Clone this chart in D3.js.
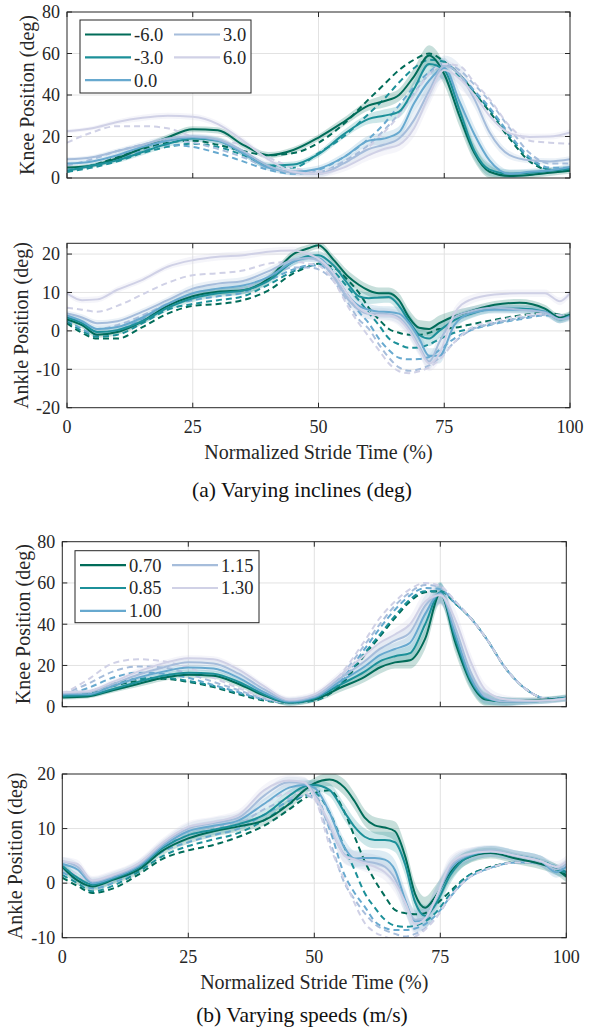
<!DOCTYPE html>
<html>
<head>
<meta charset="utf-8">
<script src="https://cdn.jsdelivr.net/npm/d3@7"></script>
<style>
  body { margin: 0; background: #fff; }
  svg { display: block; font-family: "Liberation Serif", "Times New Roman", serif; }
</style>
</head>
<body>
<svg id="chart" width="597" height="1034"></svg>
<script>
// stride % sample points (knee plots / ankle plots)
const kneeStride = [0,5,10,15,20,25,30,35,40,45,50,55,60,63,66,69,72,75,78,81,84,88,92,96,100];
const ankleStride = [0,3,6,10,15,20,25,30,35,40,45,48,50,53,56,58,60,62,64,66,68,70,72,74,77,80,85,90,95,98,100];

const inclineLabels = ["-6.0", "-3.0", "0.0", "3.0", "6.0"];
const speedLabels = ["0.70", "0.85", "1.00", "1.15", "1.30"];
const seriesColors = ["#016c59", "#1c9099", "#67a9cf", "#a6bddb", "#d0d1e6"];

const strideTicks = [0, 25, 50, 75, 100];
const kneeTicks = [0, 20, 40, 60, 80];
const ankleIncTicks = [-20, -10, 0, 10, 20];
const ankleSpdTicks = [-10, 0, 10, 20];

// (a) incline - knee, measured mean (solid) and model (dashed)
const kneeIncMeasured = [
  [5,6,9.5,14.5,19.5,23.5,23,16,11,13.5,19.5,27,35,37,40,49,59,50,30,12,3,1,1.5,2.5,3.5],
  [3.5,6,8.5,12.5,16.5,19,18,12,6,6.5,11.5,21,28.5,30,32,43,55,52,33,13,4,2,2.5,3.5,4.5],
  [7,8,11,15,18,19.5,18,12,5,3,4.5,10,18,19,22,36,47,53,37,21,8.5,2,3,3.7,5.3],
  [9,10,13,16,19,20,18.5,13,6,2.5,2,7,14,16,19,28,42,54,50,38,22,11,8.5,8,9],
  [22.5,24,27,29,30,29.5,26,18,9,3,2,5,11,14,16,24,40,52,48,40,30,21.5,19.8,20,22]
];
const kneeIncPredicted = [
  [3,6,10,14,17,18,16,13,11,12,17,26,38,45,52,57,60,56,50,41,32,19,8,4,4],
  [3,5,8,12,15,16.5,15,11,6,5,12,20,31,38,46,53,57,56,49,41,33,20,9,4,3.5],
  [4,6,9,13,16,15,12,8,4,2,4,10,19,26,35,44,51,55,50,42,34,21,10,5,5],
  [6,9,13,16,18,17,14,10,5,3,3,8,16,23,31,41,50,55,52,45,37,24,12,7,7],
  [17,22,25,25,24,20,18,16,10,5,3,7,15,22,30,40,50,55,54,46,38,25,18,17,16.5]
];

// (a) incline - ankle
const ankleIncMeasured = [
  [3,1.5,-1,-0.3,2.5,6.5,9,10.2,10.6,13.5,20,21.5,22.3,18.5,14,12,10.5,9.8,9.8,8,3.5,0.8,0.5,2,3.8,5,6.8,7.3,5.8,3.4,4.2],
  [3.5,2,-0.3,0.2,2.5,6,8.5,9.8,10.5,13,18,19.5,19.7,17,12,9,8.5,8.7,8.8,6.5,2.5,-1,-2,0,2.8,4.3,5.8,5.8,5,3,4],
  [4,2.5,0.5,1,3.5,7,9.8,11,11.8,14,18,19,18.9,15,9,6.5,5.5,5,4.9,4.5,2,-2,-6.5,-6.5,1.5,4.5,5.5,5.5,5,3,3.8],
  [4.5,3.5,2,2.5,5,8,11,12.3,13,15.5,18.5,19,18.3,14,8,5.5,4.5,4.5,4.3,3.5,0.5,-4,-8,-3,3.5,5,6,5.5,4.7,3,3.5],
  [9.8,8,8.2,10.7,13.3,16.7,18.4,19.3,19.7,20.6,20.9,20,18.8,15,9,6,4.5,4,4,3,0,-4.5,-8.5,-6,4.5,8,9.5,9.8,9.8,7.7,9.8]
];
const ankleIncPredicted = [
  [2,-0.5,-2,-2,1,4.5,6.5,7,8,10.5,15,16.7,17.5,16.5,13,10,6,3,0.5,-0.5,-1,-1,-0.5,0.5,0.8,1.6,2.9,4,4.7,4.2,3.8],
  [2.5,0,-1.5,-1,2,5.5,7,8,9,12,15.5,17,17.5,15.5,11,8,4.7,1.5,-2,-3.5,-4.4,-4.3,-3.5,-2.2,-0.5,0.5,2,3.3,4.2,4,3.8],
  [3,0.5,-1,0,3,6.5,8,9,10,13,16,17,17,14.5,9,5,2,-2,-5,-7,-7.4,-7.3,-6.8,-5,-2,0,1.8,3,4,4,3.5],
  [3.5,2,0.5,1.5,4,7,9,10,11,14,16.5,16.5,16,13,7,3,0.5,-3.5,-7,-9.5,-10.4,-10,-9,-7,-3,0,2,3.3,4.2,4,3.5],
  [6,5.5,5,6.5,9.5,12.5,14.5,15,15.7,17.5,18,17.5,17,13,6,2,-1.5,-5,-8.5,-10.5,-11,-10.5,-9.5,-7.5,-3,0.5,2.5,3.8,4.5,4,3.5]
];

// (b) speed - knee
const kneeSpdMeasured = [
  [4.5,5,8,11,14,15.5,15,11,5.5,2,3.5,9,14.5,19,21.5,22.5,33,55,31,12,3.5,2.5,3,3.5,4],
  [5,5.5,8.5,12,15,16.5,16,12,6,2,4,10.5,17,22,24.5,26,40,55.5,33,13,4,2.5,2.5,3,4.5],
  [6,6,10,14,17,19,18.5,14,7,2.5,4.5,12,19.5,25,28,31,45,55,35,14,4.5,2.5,2.5,3,4],
  [6.5,7,11,15.5,19,21.5,21,16,8.5,3,5,13.5,22,28,32,36,49,54.5,38,17,5,2.5,2.5,3,4],
  [7,7.5,12,17,21,23.5,23,18,10,3.5,6,15,25,31,35,40,51,54,42,22,8,3.5,3,3,4]
];
const kneeSpdPredicted = [
  [5,6.5,10,12.5,13.5,12,9.5,6,3,2,3,10,25,34,43,51,55.5,56,50,43,33.5,18.5,8.5,4,4],
  [5,7,11,13.5,14,12.5,10,6.5,3.5,2,3,11,26,35,44,52,56,56,50,43,33.5,18.5,8.5,4,4],
  [5.5,9,14,16.5,16,14,10.5,7,3.5,2,3.5,12,28,38,47,54,57.5,57,50,43,33.5,18.5,8.5,4,4],
  [6,11,17,19.5,19,16,12,8,4,2,3.5,14,30,40,49,55.5,59,58,51,43,33.5,18.5,8.5,4,4],
  [6,13,21,23,22,19,14,9,4.5,2,4,15,32,43,51,57,60,58.5,51,43,33.5,18.5,8.5,4,4]
];

// (b) speed - ankle
const ankleSpdMeasured = [
  [3,0.5,-0.6,0.6,2.4,6,8.2,9.5,10.4,11.5,14.5,17,18.3,19,17.5,15,12,10.6,10.2,9.5,5,-2,-4.5,-2.5,2,4.5,5.5,4.5,3.5,2.5,1.2],
  [3.2,1,-0.3,0.8,2.8,6.5,8.8,9.8,10.8,12.5,16,17.7,18,17.1,13,10.3,8.5,7.9,7.9,7.5,3.5,-3.5,-6,-4,1.5,4.5,5.8,5,4,2.5,2],
  [3.5,2.5,0,1,3,6.8,9.5,10.5,11.5,14.5,17.5,18,17.5,13,6.5,4.5,4.6,4.6,4.3,2.4,-3,-7,-6.5,-3,2.5,4.8,5.8,5,4,2,3],
  [4,3,0.3,1.3,3.3,7.2,10,11,12,16,18.5,18.3,16.5,10.5,5.2,4.4,4,3.7,3,0.8,-3.5,-6.7,-6.5,-3,3,5,6,5,4,2.5,3.5],
  [4,3.5,0.5,1.5,3.5,7.5,10.3,11.2,12.5,17,18.8,18.5,16,11,5,4.3,3.6,3,2,0,-3.5,-7.5,-6.5,-3,3.5,5.2,5.8,5,4,3,4]
];
const ankleSpdPredicted = [
  [1,-0.5,-1.8,-1,1.5,4.5,6,7,8.5,10.5,13.5,15.5,16.5,17,13,8.5,4,0.5,-2.4,-4.9,-5.5,-5.7,-5.5,-4,-1.5,1,3,3.8,3.7,2.5,1.5],
  [1.5,0,-1.5,-0.5,2,5,6.8,8,9.2,11.5,14.5,16,16.5,13,6.5,2.4,-1.8,-4.5,-6.7,-7.8,-8,-7.8,-7,-5.5,-2,1,2.8,3.8,3.8,3,2],
  [2,0.5,-1,0,2.5,5.8,7.5,8.8,10,12.5,15,16,16,10,1.5,-1.8,-4.3,-7,-8.2,-8.6,-8.6,-8.3,-7.5,-6,-2.5,0.5,2.8,3.8,3.8,3,2.5],
  [2.5,1,-0.5,0.5,3,6.5,8.2,9.5,10.8,13.5,15.5,16,15.5,8,0,-3,-5.5,-7.5,-8.6,-9.3,-9.8,-9.3,-8.3,-6.5,-2.5,0.5,2.8,3.8,3.8,3,3],
  [3,1.5,0,1,3.5,7,8.8,10,11.5,14.5,16.5,16.5,15.5,7,0.5,-3.7,-7.3,-9,-9.8,-10.4,-10.4,-9.8,-8.5,-6.5,-2.5,0.5,2.8,3.8,3.8,3,3]
];

// std band half widths
const kneeSpread = [1,1,1.2,1.5,1.5,1.5,1.5,1.5,1.5,1.5,1.5,2,2.5,3,3,4,5,5,5,4,3,2,1.5,1.5,1.5];
const ankleSpread = [0.8,0.8,0.8,0.8,0.8,0.8,1,1,1,1,1,1,1,1.2,1.5,1.5,1.5,1.5,1.5,1.8,2,2,2,2,1.5,1.2,1,1,1,1,1];

const svg = d3.select("#chart");
const axisColor = "#262626";

const panels = [
  { left: 67, right: 570, top: 12, bottom: 178, yDomain: [0, 80], yTicks: kneeTicks,
    stride: kneeStride, measured: kneeIncMeasured, predicted: kneeIncPredicted, spread: kneeSpread,
    ylabel: "Knee Position (deg)", labelX: 34, showX: false,
    legend: { names: inclineLabels, x: 80, y: 20, w: 171, h: 73, col2: 89 } },
  { left: 67, right: 570, top: 243.3, bottom: 407.7, yDomain: [-20, 22.8], yTicks: ankleIncTicks,
    stride: ankleStride, measured: ankleIncMeasured, predicted: ankleIncPredicted, spread: ankleSpread,
    ylabel: "Ankle Position (deg)", labelX: 28, showX: true, caption: "(a) Varying inclines (deg)", capY: 497 },
  { left: 62.3, right: 566.3, top: 541.7, bottom: 706.7, yDomain: [0, 80], yTicks: kneeTicks,
    stride: kneeStride, measured: kneeSpdMeasured, predicted: kneeSpdPredicted, spread: kneeSpread,
    ylabel: "Knee Position (deg)", labelX: 29.5, showX: false,
    legend: { names: speedLabels, x: 75, y: 550.7, w: 184, h: 72, col2: 92 } },
  { left: 62.3, right: 566.3, top: 774, bottom: 937.7, yDomain: [-10, 20], yTicks: ankleSpdTicks,
    stride: ankleStride, measured: ankleSpdMeasured, predicted: ankleSpdPredicted, spread: ankleSpread,
    ylabel: "Ankle Position (deg)", labelX: 22, showX: true, caption: "(b) Varying speeds (m/s)", capY: 1022 }
];

panels.forEach(function(p, pi) {
  var x = d3.scaleLinear().domain([0, 100]).range([p.left, p.right]);
  var y = d3.scaleLinear().domain(p.yDomain).range([p.bottom, p.top]);
  var g = svg.append("g");

  // clip
  var clipId = "clip" + pi;
  svg.append("clipPath").attr("id", clipId)
    .append("rect").attr("x", p.left).attr("y", p.top)
    .attr("width", p.right - p.left).attr("height", p.bottom - p.top);

  // grid
  g.selectAll(".gx").data(strideTicks.slice(1, -1)).enter().append("line")
    .attr("x1", d => x(d)).attr("x2", d => x(d))
    .attr("y1", p.top).attr("y2", p.bottom)
    .attr("stroke", "#e2e2e2").attr("stroke-width", 1);
  g.selectAll(".gy").data(p.yTicks.filter(t => t > p.yDomain[0] && t < p.yDomain[1])).enter().append("line")
    .attr("x1", p.left).attr("x2", p.right)
    .attr("y1", d => y(d)).attr("y2", d => y(d))
    .attr("stroke", "#e2e2e2").attr("stroke-width", 1);

  var plot = g.append("g").attr("clip-path", "url(#" + clipId + ")");

  var band = d3.area()
    .x((d, i) => x(p.stride[i]))
    .y0((d, i) => y(d - p.spread[i]))
    .y1((d, i) => y(d + p.spread[i]))
    .curve(d3.curveMonotoneX);
  var line = d3.line()
    .x((d, i) => x(p.stride[i]))
    .y(d => y(d))
    .curve(d3.curveMonotoneX);

  // shaded std bands
  p.measured.forEach(function(vals, si) {
    plot.append("path").attr("d", band(vals))
      .attr("fill", seriesColors[si]).attr("fill-opacity", 0.22).attr("stroke", "none");
  });
  // model (dashed)
  p.predicted.forEach(function(vals, si) {
    plot.append("path").attr("d", line(vals))
      .attr("fill", "none").attr("stroke", seriesColors[si])
      .attr("stroke-width", 2).attr("stroke-dasharray", "6,4");
  });
  // measured mean (solid)
  p.measured.forEach(function(vals, si) {
    plot.append("path").attr("d", line(vals))
      .attr("fill", "none").attr("stroke", seriesColors[si]).attr("stroke-width", 2);
  });

  // frame and ticks
  g.append("rect").attr("x", p.left).attr("y", p.top)
    .attr("width", p.right - p.left).attr("height", p.bottom - p.top)
    .attr("fill", "none").attr("stroke", axisColor).attr("stroke-width", 1);

  var tl = 5;
  strideTicks.forEach(function(t) {
    g.append("line").attr("x1", x(t)).attr("x2", x(t)).attr("y1", p.bottom).attr("y2", p.bottom - tl)
      .attr("stroke", axisColor);
    g.append("line").attr("x1", x(t)).attr("x2", x(t)).attr("y1", p.top).attr("y2", p.top + tl)
      .attr("stroke", axisColor);
  });
  p.yTicks.forEach(function(t) {
    g.append("line").attr("x1", p.left).attr("x2", p.left + tl).attr("y1", y(t)).attr("y2", y(t))
      .attr("stroke", axisColor);
    g.append("line").attr("x1", p.right).attr("x2", p.right - tl).attr("y1", y(t)).attr("y2", y(t))
      .attr("stroke", axisColor);
  });

  // tick labels
  g.selectAll(".yl").data(p.yTicks).enter().append("text")
    .attr("x", p.left - 7).attr("y", d => y(d)).attr("dy", "0.35em")
    .attr("text-anchor", "end").attr("font-size", 18).attr("fill", axisColor)
    .text(d => d);
  if (p.showX) {
    g.selectAll(".xl").data(strideTicks).enter().append("text")
      .attr("x", d => x(d)).attr("y", p.bottom + 25)
      .attr("text-anchor", "middle").attr("font-size", 18).attr("fill", axisColor)
      .text(d => d);
    g.append("text").attr("x", (p.left + p.right) / 2).attr("y", p.bottom + 51)
      .attr("text-anchor", "middle").attr("font-size", 20).attr("fill", axisColor)
      .text("Normalized Stride Time (%)");
    g.append("text").attr("x", 302).attr("y", p.capY)
      .attr("text-anchor", "middle").attr("font-size", 21.5).attr("fill", "#111")
      .text(p.caption);
  }

  // y label
  g.append("text")
    .attr("transform", "translate(" + p.labelX + "," + ((p.top + p.bottom) / 2) + ") rotate(-90)")
    .attr("text-anchor", "middle").attr("font-size", 20).attr("fill", axisColor)
    .text(p.ylabel);

  // legend
  if (p.legend) {
    var L = p.legend;
    var lg = g.append("g").attr("transform", "translate(" + L.x + "," + L.y + ")");
    lg.append("rect").attr("width", L.w).attr("height", L.h)
      .attr("fill", "#fff").attr("stroke", axisColor).attr("stroke-width", 1);
    L.names.forEach(function(name, i) {
      var col = i < 3 ? 0 : 1;
      var row = i < 3 ? i : i - 3;
      var ox = 5 + col * L.col2;
      var oy = 14.5 + row * 22.8;
      lg.append("line").attr("x1", ox).attr("x2", ox + 46).attr("y1", oy).attr("y2", oy)
        .attr("stroke", seriesColors[i]).attr("stroke-width", 2.2);
      lg.append("text").attr("x", ox + 49).attr("y", oy).attr("dy", "0.35em")
        .attr("font-size", 18.5).attr("fill", axisColor).text(name);
    });
  }
});
</script>
</body>
</html>
